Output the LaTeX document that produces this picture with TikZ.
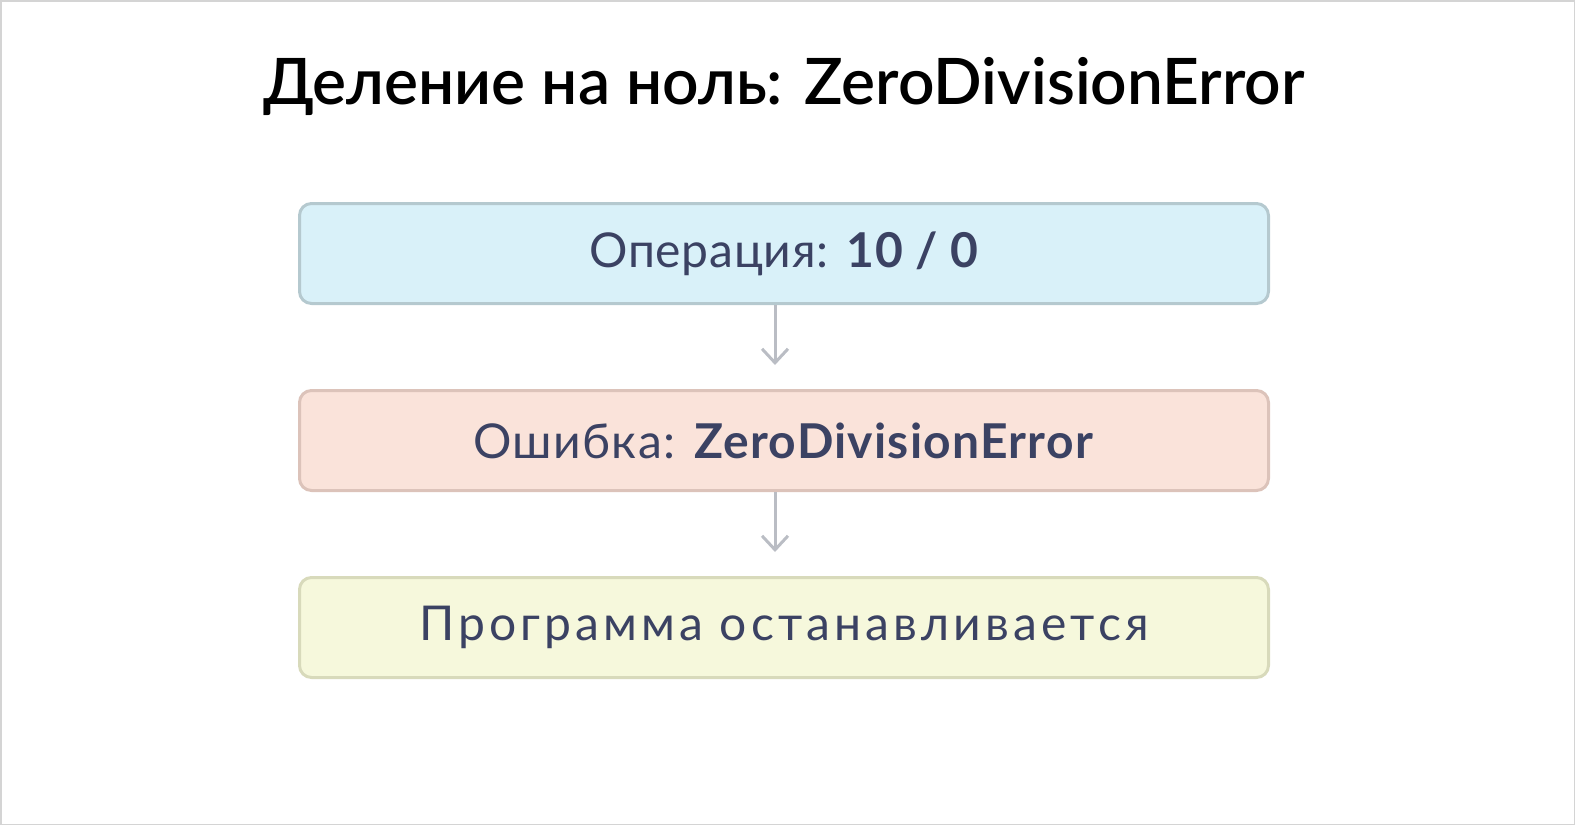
\documentclass[tikz,border=0pt]{standalone}
\usepackage{fontspec}
\setmainfont{Lato}
\newfontfamily\titlefont{Lato}[UprightFont={* Semibold}, BoldFont={* Semibold}]
\usetikzlibrary{arrows.meta}
\definecolor{framegray}{HTML}{D4D4D4}
\definecolor{txt}{HTML}{3B4263}
\definecolor{fillA}{HTML}{D9F1F9}
\definecolor{drawA}{HTML}{B5C9CF}
\definecolor{fillB}{HTML}{FAE3DA}
\definecolor{drawB}{HTML}{DCC3BA}
\definecolor{fillC}{HTML}{F6F8DC}
\definecolor{drawC}{HTML}{D8DABB}
\definecolor{arrowgray}{HTML}{BABDC4}
\tikzset{
  stepbox/.style={rounded corners=12pt, line width=3pt, minimum width=969pt,
    minimum height=100pt, inner sep=0pt, text=txt, font=\fontsize{48}{56}\selectfont},
  flowarrow/.style={draw=arrowgray, line width=3pt,
    -{Straight Barb[length=14pt,width=26pt,line width=3pt]}, shorten >=24pt}
}
\begin{document}
\begin{tikzpicture}[x=1pt,y=-1pt]
\useasboundingbox (0,0) rectangle (1575,825);
\draw[framegray, line width=1.5pt] (0.75,0.75) rectangle (1574.25,824.25);
\node (title) at (784,86) {\titlefont\fontsize{64}{72}\selectfont Деление на ноль: ZeroDivisionError};
\node[stepbox, fill=fillA, draw=drawA] (b1) at (784,253.5) {\addfontfeature{LetterSpace=1.5}Операция: \textbf{10 / 0}};
\node[stepbox, fill=fillB, draw=drawB] (b2) at (784,440.5) {\addfontfeature{LetterSpace=2.6}Ошибка: \textbf{\addfontfeature{LetterSpace=2.6}ZeroDivisionError}};
\node[stepbox, fill=fillC, draw=drawC] (b3) at (784,627.5) {\addfontfeature{LetterSpace=8.6}Программа останавливается};
\coordinate (ax) at (775,0);
\draw[flowarrow] (b1.south -| ax) -- (b2.north -| ax);
\draw[flowarrow] (b2.south -| ax) -- (b3.north -| ax);
\end{tikzpicture}
\end{document}
